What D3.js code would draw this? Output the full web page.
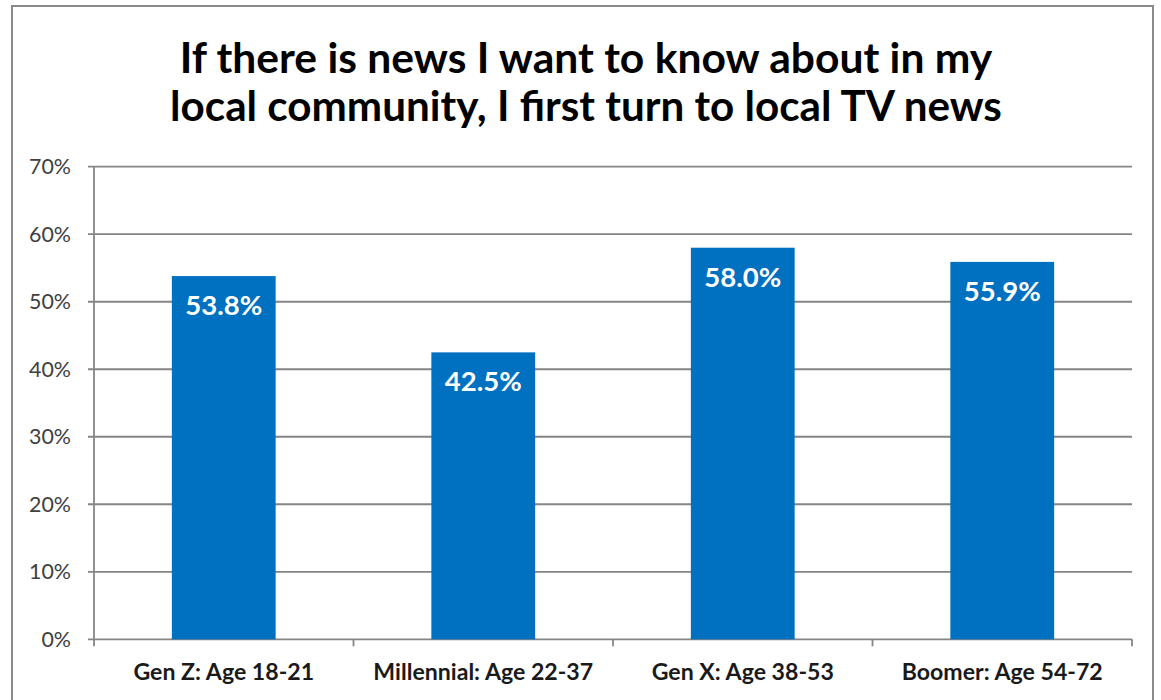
<!DOCTYPE html>
<html>
<head>
<meta charset="utf-8">
<script src="https://cdn.jsdelivr.net/npm/d3@7"></script>
<style>
  html, body { margin: 0; padding: 0; background: #ffffff; }
  svg { display: block; }
</style>
</head>
<body>
<svg id="chart" width="1161" height="700"></svg>
<script>
// Survey answers by generation
const categories = ["Gen Z: Age 18-21", "Millennial: Age 22-37", "Gen X: Age 38-53", "Boomer: Age 54-72"];
const values = [53.8, 42.5, 58.0, 55.9];
const yTicks = [0, 10, 20, 30, 40, 50, 60, 70];
const titleLines = ["If there is news I want to know about in my", "local community, I first turn to local TV news"];

const plot = { left: 94, right: 1132, top: 166.7, bottom: 639.3 };
const fontFamily = "Lato, 'Open Sans', 'Liberation Sans', sans-serif";
const barColor = "#0070C0";
const gridColor = "#858585";

const svg = d3.select("#chart");

// Outer chart frame
svg.append("rect")
  .attr("x", 12).attr("y", 6)
  .attr("width", 1141).attr("height", 720)
  .attr("fill", "#ffffff")
  .attr("stroke", "#8a8a8a")
  .attr("stroke-width", 2);

const x = d3.scaleBand()
  .domain(categories)
  .range([plot.left, plot.right])
  .paddingInner(0.6)
  .paddingOuter(0.3);

const y = d3.scaleLinear()
  .domain([0, 70])
  .range([plot.bottom, plot.top]);

// Scale a group of texts so that a reference string spans a given width
function fitFont(sel, sample, targetWidth, weight) {
  const probe = svg.append("text")
    .attr("font-family", fontFamily)
    .attr("font-weight", weight)
    .attr("font-size", 40)
    .text(sample);
  const w = probe.node().getComputedTextLength();
  probe.remove();
  const size = 40 * targetWidth / w;
  sel.attr("font-size", size);
  return size;
}

// Horizontal gridlines
svg.append("g")
  .selectAll("line")
  .data(yTicks)
  .join("line")
  .attr("x1", plot.left - 6)
  .attr("x2", plot.right)
  .attr("y1", d => y(d))
  .attr("y2", d => y(d))
  .attr("stroke", gridColor)
  .attr("stroke-width", 1.8);

// Y axis line
svg.append("line")
  .attr("x1", plot.left).attr("x2", plot.left)
  .attr("y1", plot.top).attr("y2", plot.bottom)
  .attr("stroke", gridColor).attr("stroke-width", 1.8);

// Category separator ticks on the x axis
const edgeX = i => plot.left + i * (plot.right - plot.left) / categories.length;
svg.append("g")
  .selectAll("line")
  .data(d3.range(categories.length + 1))
  .join("line")
  .attr("x1", edgeX)
  .attr("x2", edgeX)
  .attr("y1", plot.bottom).attr("y2", plot.bottom + 7)
  .attr("stroke", gridColor).attr("stroke-width", 1.8);

// Y tick labels
const yLabels = svg.append("g")
  .selectAll("text")
  .data(yTicks)
  .join("text")
  .attr("x", 71)
  .attr("y", d => y(d))
  .attr("dy", "0.36em")
  .attr("text-anchor", "end")
  .attr("font-family", fontFamily)
  .attr("fill", "#404040")
  .text(d => d + "%");
fitFont(yLabels, "70%", 42, 400);

// Bars
svg.append("g")
  .selectAll("rect")
  .data(values)
  .join("rect")
  .attr("x", (d, i) => x(categories[i]))
  .attr("y", d => y(d))
  .attr("width", x.bandwidth())
  .attr("height", d => y(0) - y(d))
  .attr("fill", barColor);

// Value labels inside bars
const valueLabels = svg.append("g")
  .selectAll("text")
  .data(values)
  .join("text")
  .attr("x", (d, i) => x(categories[i]) + x.bandwidth() / 2)
  .attr("y", d => y(d) + 39)
  .attr("text-anchor", "middle")
  .attr("font-family", fontFamily)
  .attr("font-weight", 700)
  .attr("fill", "#ffffff")
  .text(d => d.toFixed(1) + "%");
fitFont(valueLabels, "42.5%", 77, 700);

// Category labels
const catLabels = svg.append("g")
  .selectAll("text")
  .data(categories)
  .join("text")
  .attr("x", d => x(d) + x.bandwidth() / 2)
  .attr("y", 679.5)
  .attr("text-anchor", "middle")
  .attr("font-family", fontFamily)
  .attr("font-weight", 700)
  .attr("fill", "#1a1a1a")
  .text(d => d);
fitFont(catLabels, "Millennial: Age 22-37", 220, 700);

// Title
const titleWidths = [813, 832];
titleLines.forEach((line, i) => {
  const t = svg.append("text")
    .attr("x", 586)
    .attr("y", 73 + i * 48)
    .attr("text-anchor", "middle")
    .attr("font-family", fontFamily)
    .attr("font-weight", 700)
    .attr("fill", "#000000")
    .text(line);
  fitFont(t, line, titleWidths[i], 700);
});
</script>
</body>
</html>
